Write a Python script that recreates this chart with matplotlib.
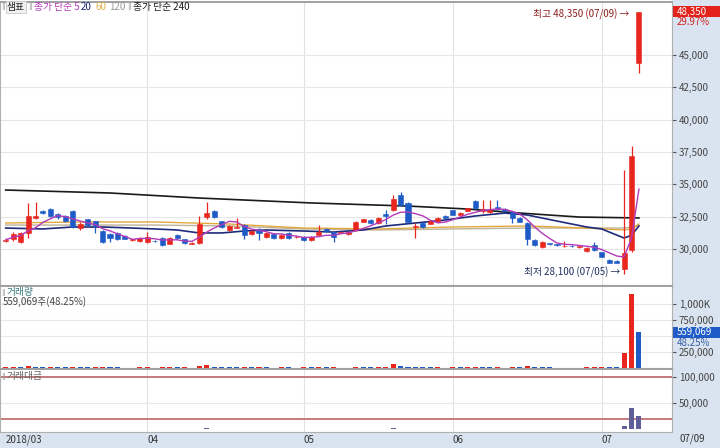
import matplotlib
matplotlib.use('Agg')
import matplotlib.pyplot as plt
import numpy as np
import pandas as pd
from matplotlib.patches import Rectangle
import matplotlib.transforms as mtrans

plt.rcParams['font.family'] = ['Noto Sans CJK KR', 'DejaVu Sans']

# ---------------- data ----------------
opens = [30650, 30750, 30550, 31250, 32400, 32950, 33100, 32700, 32550, 32950,
         31600, 32300, 32150, 31400, 31150, 31250, 31000, 30700, 30600, 30550,
         30650, 30850, 30400, 31100, 30750, 30400, 30450, 32450, 32950, 32150,
         31450, 31650, 31850, 31150, 31550, 30900, 31150, 30850, 31250, 30900,
         30950, 30700, 31100, 31550, 31300, 31250, 31150, 31450, 32100, 32250,
         32000, 32700, 33000, 34150, 33550, 31700, 32000, 31950, 32150, 32550,
         33000, 32650, 32950, 33700, 32950, 32850, 33250, 33100, 32850, 32400,
         32000, 30700, 30150, 30450, 30350, 30200, 30250, 30150, 29850, 30300,
         29750, 29150, 29100, 28450, 29900, 44350]
highs = [30850, 31300, 31350, 33550, 33650, 33000, 33150, 32800, 32600, 33000,
         32050, 32350, 32200, 31450, 31200, 31300, 31050, 30800, 30900, 31300,
         30700, 30900, 30900, 31150, 30800, 30550, 32550, 33650, 33000, 32200,
         31850, 32400, 31900, 31450, 31600, 31300, 31200, 31150, 31300, 31000,
         31000, 31000, 31850, 31600, 31350, 31350, 31350, 32150, 32350, 32300,
         32450, 33000, 34150, 34400, 33600, 32000, 32050, 32200, 32450, 32600,
         33050, 32850, 33200, 33750, 33800, 33800, 33800, 33150, 32900, 32450,
         32050, 30750, 30600, 30500, 30400, 30600, 30300, 30250, 30150, 30550,
         29800, 29200, 29150, 36100, 38000, 48350]
lows = [30550, 30600, 30450, 30850, 32300, 32700, 32450, 32350, 32050, 31600,
        31450, 31800, 31250, 30500, 30550, 30700, 30750, 30650, 30550, 30500,
        30550, 30250, 30350, 30800, 30400, 30350, 30350, 32350, 32400, 31650,
        31400, 31600, 30800, 31100, 30700, 30850, 30800, 30800, 30800, 30850,
        30650, 30650, 31050, 31350, 30550, 31200, 31100, 31400, 32050, 31950,
        31950, 31900, 32950, 33350, 32050, 30850, 31650, 31900, 32100, 32350,
        32600, 32600, 32900, 33100, 32800, 32800, 33050, 32900, 32000, 32050,
        30300, 30250, 30100, 30300, 30250, 30150, 30150, 30100, 29800, 29850,
        29350, 28900, 28900, 28100, 29800, 43600]
closes = [30700, 31150, 31250, 32550, 32550, 32800, 32550, 32450, 32150, 31700,
          31950, 31850, 31800, 30550, 30850, 30800, 30800, 30750, 30850, 30950,
          30600, 30300, 30850, 30850, 30450, 30500, 31950, 32800, 32450, 31700,
          31800, 31700, 31100, 31400, 31250, 31250, 30850, 31100, 30850, 30950,
          30700, 30950, 31300, 31400, 30950, 31300, 31300, 32100, 32300, 32000,
          32400, 32550, 33850, 33400, 32100, 31750, 31700, 32150, 32400, 32400,
          32650, 32800, 33150, 33150, 33100, 33000, 33100, 32950, 32400, 32100,
          30750, 30300, 30550, 30400, 30300, 30250, 30200, 30200, 30100, 29900,
          29400, 28950, 28950, 29700, 37200, 48350]
volume = [8000, 14000, 11000, 38000, 22000, 12000, 15000, 9000, 8000, 16000,
          10000, 9000, 12000, 18000, 9000, 8000, 7000, 6000, 9000, 11000,
          6000, 10000, 12000, 8000, 9000, 7000, 30000, 52000, 20000, 14000,
          10000, 9000, 14000, 8000, 9000, 8000, 7000, 9000, 8000, 6000,
          9000, 8000, 12000, 8000, 10000, 7000, 6000, 18000, 12000, 9000,
          12000, 15000, 55000, 30000, 22000, 14000, 9000, 8000, 10000, 7000,
          9000, 8000, 10000, 12000, 9000, 8000, 9000, 7000, 10000, 9000,
          25000, 16000, 12000, 8000, 7000, 6000, 5000, 6000, 9000, 10000,
          12000, 9000, 8000, 230000, 1158700, 559069]
trade_value = [250, 430, 340, 1200, 720, 390, 490, 290, 260, 510,
               320, 290, 380, 560, 280, 250, 220, 180, 280, 340,
               180, 310, 370, 250, 280, 210, 930, 1700, 650, 450,
               320, 280, 440, 250, 280, 250, 220, 280, 250, 190,
               280, 250, 380, 250, 310, 220, 190, 580, 390, 290,
               390, 490, 1840, 1000, 720, 440, 290, 260, 320, 230,
               300, 260, 330, 400, 300, 260, 300, 230, 320, 290,
               780, 490, 360, 240, 210, 180, 150, 180, 270, 300,
               360, 260, 230, 7000, 40500, 26000]

# moving averages (index, value)
ma20_idx = [0, 5, 9, 13, 17, 20, 23, 26, 29, 32, 35, 40, 44, 48, 51, 55, 59, 63, 67, 70, 74, 78, 80, 82, 83, 84, 85]
ma20_val = [31620, 31550, 31700, 31700, 31620, 31550, 31470, 31240, 31240, 31390, 31470, 31390, 31310, 31470,
            31780, 32010, 32240, 32550, 32780, 32630, 32160, 31700, 31550, 31080, 30850, 31060, 31780]
ma60_idx = [0, 10, 20, 30, 40, 50, 60, 70, 78, 83, 84, 85]
ma60_val = [32010, 32090, 32090, 31930, 31620, 31550, 31700, 31780, 31620, 31470, 31550, 31930]
ma120_idx = [0, 20, 30, 40, 50, 60, 70, 80, 83, 85]
ma120_val = [31850, 31850, 31780, 31550, 31470, 31550, 31620, 31620, 31620, 31780]
ma240_idx = [0, 14, 26, 41, 54, 62, 69, 77, 85]
ma240_val = [34560, 34330, 33940, 33560, 33320, 33090, 32780, 32470, 32400]

month_idx = [0, 19, 40, 60, 80]
month_labels = ['2018/03', '04', '05', '06', '07']
last_date = '07/09'
hi_date = '07/09'
lo_date = '07/05'
stock_name = '샘표'

# ---------------- figure ----------------
W, H = 720, 448
fig = plt.figure(figsize=(7.2, 4.48), dpi=100)
fig.patch.set_facecolor('white')

def fa(x0, y0, x1, y1):
    return [x0 / W, 1 - y1 / H, (x1 - x0) / W, (y1 - y0) / H]

def ftxt(x, y, s, **kw):
    kw.setdefault('va', 'center')
    kw.setdefault('fontsize', 7)
    return fig.text(x / W, 1 - y / H, s, **kw)

def bar_icon(x, y):
    return ftxt(x, y, '‖', color='#999999', fontsize=5, family='DejaVu Sans')

strip = '#D9E4F0'
fig.patches.append(Rectangle((672 / W, 0), 48 / W, 1, transform=fig.transFigure, fc=strip, ec='none', zorder=-5))
fig.patches.append(Rectangle((0, 0), 1, 16 / H, transform=fig.transFigure, fc=strip, ec='none', zorder=-5))

ax1 = fig.add_axes(fa(0, 2, 672, 285))
ax2 = fig.add_axes(fa(0, 286, 672, 368))
ax3 = fig.add_axes(fa(0, 369, 672, 432))

n = len(closes)
x = np.arange(n)
xlim = (-5.7 / 7.45, (672 - 5.7) / 7.45)
RED, BLUE = '#E8261E', '#1E5BC6'
up = [c >= o for o, c in zip(opens, closes)]
ccol = [RED if u else BLUE for u in up]

for ax in (ax1, ax2, ax3):
    ax.set_xlim(*xlim)
    ax.set_facecolor('white')
    for m in month_idx[1:]:
        ax.axvline(m, color='#E2E2E2', lw=0.8, zorder=0)
    for s in ax.spines.values():
        s.set_color('#B0B0B0')
        s.set_linewidth(0.8)
    ax.spines['top'].set_color('#A0A0A0')
    ax.spines['top'].set_linewidth(1.4)
    ax.yaxis.tick_right()
    ax.tick_params(axis='y', labelsize=7, colors='#555555', labelcolor='#444444', length=3, pad=2, direction='out')
    ax.set_xticks([])

# main price panel
ax1.set_ylim(27216, 49098)
pticks = [30000, 32500, 35000, 37500, 40000, 42500, 45000]
ax1.set_yticks(pticks)
ax1.set_yticklabels([f'{v:,}' for v in pticks])
for v in pticks:
    ax1.axhline(v, color='#E6E6E6', lw=0.8, zorder=0)

ax1.vlines(x, lows, highs, colors=ccol, lw=0.9, zorder=3)
body = [max(abs(c - o), 40) for o, c in zip(opens, closes)]
bottom = [min(o, c) for o, c in zip(opens, closes)]
ax1.bar(x, body, bottom=bottom, width=0.68, color=ccol, edgecolor=ccol, lw=0.4, zorder=4)

ma5 = pd.Series(closes, dtype=float).rolling(5, min_periods=1).mean()
ax1.plot(ma240_idx, ma240_val, color='#1A1A1A', lw=1.2, zorder=2)
ax1.plot(ma120_idx, ma120_val, color='#BDB29A', lw=1.0, zorder=2)
ax1.plot(ma60_idx, ma60_val, color='#E3A83E', lw=1.0, zorder=2)
ax1.plot(ma20_idx, ma20_val, color='#1F2A7A', lw=1.2, zorder=2)
ax1.plot(x, ma5, color='#B23AB8', lw=1.0, zorder=5)

ihi = int(np.argmax(highs))
ilo = int(np.argmin(lows))
ax1.annotate(f'최고 {highs[ihi]:,} ({hi_date}) →', xy=(ihi, highs[ihi]), xytext=(-7, -2),
             textcoords='offset points', ha='right', va='center', fontsize=7, color='#8E1C1C', zorder=6)
ax1.annotate(f'최저 {lows[ilo]:,} ({lo_date}) →', xy=(ilo, lows[ilo]), xytext=(-3, 1),
             textcoords='offset points', ha='right', va='center', fontsize=7, color='#1F2F5F', zorder=6)

# current-price box across the right strip
bf1 = mtrans.blended_transform_factory(fig.transFigure, ax1.transData)
p_per_px = (49098 - 27216) / 283.0
ax1.add_patch(Rectangle((673 / W, closes[-1] - 5.5 * p_per_px), 47 / W, 11 * p_per_px,
                        transform=bf1, fc='#E3221B', ec='none', clip_on=False, zorder=9))
pct = (closes[-1] / closes[-2] - 1) * 100
ax1.text(677 / W, closes[-1], f'{closes[-1]:,}', transform=bf1, ha='left', va='center', fontsize=7,
         color='white', clip_on=False, zorder=10)
ax1.annotate(f'{pct:.2f}%', xy=(677 / W, closes[-1]), xycoords=bf1, xytext=(0, -7.5),
             textcoords='offset points', ha='left', va='center', fontsize=7, color='#D02020',
             annotation_clip=False)

# volume panel
vmax = 1280000
ax2.set_ylim(0, vmax)
vcol = [RED] + [RED if volume[i] >= volume[i - 1] else BLUE for i in range(1, n)]
for v in [250000, 500000, 750000, 1000000]:
    ax2.axhline(v, color='#E8E8E8', lw=0.8, zorder=0)
ax2.bar(x, volume, width=0.68, color=vcol, zorder=3)
vt = [250000, 750000, 1000000]
ax2.set_yticks(vt)
ax2.set_yticklabels(['250,000', '750,000', '1,000K'])
bf2 = mtrans.blended_transform_factory(fig.transFigure, ax2.transData)
v_per_px = vmax / 82.0
ax2.add_patch(Rectangle((673 / W, volume[-1] - 5.5 * v_per_px), 47 / W, 11 * v_per_px,
                        transform=bf2, fc='#1E5BC6', ec='none', clip_on=False, zorder=9))
vpct = volume[-1] / volume[-2] * 100
ax2.text(677 / W, volume[-1], f'{volume[-1]:,}', transform=bf2, ha='left', va='center', fontsize=7,
         color='white', clip_on=False, zorder=10)
ax2.annotate(f'{vpct:.2f}%', xy=(677 / W, volume[-1]), xycoords=bf2, xytext=(0, -8),
             textcoords='offset points', ha='left', va='center', fontsize=7, color='#3A5FA8',
             annotation_clip=False)

# trading value panel
ax3.set_ylim(-5400, 116000)
ax3.axhline(50000, color='#E8E8E8', lw=0.8, zorder=0)
ax3.axhline(100000, color='#C47A7A', lw=1.4, zorder=1)
ax3.axhline(20000, color='#C47A7A', lw=1.4, zorder=1)
ax3.bar(x, trade_value, width=0.68, color='#5E5E98', zorder=3)
ax3.set_yticks([50000, 100000])
ax3.set_yticklabels(['50,000', '100,000'])
ax3.set_xticks(month_idx)
ax3.set_xticklabels(month_labels, ha='left', fontsize=7, color='#333333')
ax3.tick_params(axis='x', length=0, pad=2)

# legends / labels
bar_icon(1, 7)
ftxt(7, 7, stock_name, color='#222222',
     bbox=dict(boxstyle='square,pad=0.15', fc='#F0F0F0', ec='#C8C8C8', lw=0.6))
bar_icon(28, 7)
ftxt(34, 7, '종가 단순 5', color='#B23AB8')
ftxt(81, 7, '20', color='#1F2A7A')
ftxt(95, 7, '60', color='#E3B04E')
ftxt(109, 7, '120', color='#999999')
bar_icon(127, 7)
ftxt(133, 7, '종가 단순 240', color='#1A1A1A')

bar_icon(1, 292)
ftxt(7, 292, '거래량', color='#3A7A80')
ftxt(3, 302, f'{volume[-1]:,}주({vpct:.2f}%)', color='#444444')
bar_icon(1, 376)
ftxt(7, 376, '거래대금', color='#666666')
ftxt(680, 439, last_date, color='#333333')

fig.savefig('out.png', dpi=100)
